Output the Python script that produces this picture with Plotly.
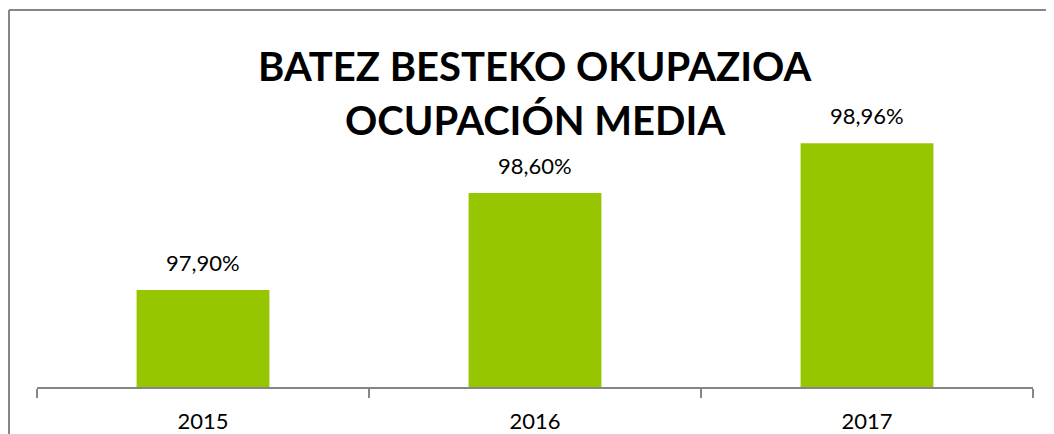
import plotly.graph_objects as go

years = ["2015", "2016", "2017"]
occupancy = [97.90, 98.60, 98.96]
labels = ["97,90%", "98,60%", "98,96%"]
title_lines = ["BATEZ BESTEKO OKUPAZIOA", "OCUPACIÓN MEDIA"]

OFF = 8  # page body margin
W, H = 1054, 434
# plot area in page pixels: x 37..1033, y 110..387
PX0, PX1, PY0, PY1 = 37, 1033, 110, 387
L, R = PX0 - OFF, W - (PX1 - OFF)
T, B = PY0 - OFF, H - (PY1 - OFF)
ymin, ymax = 97.2, 99.2

def px_x(p):
    return (p - PX0) / (PX1 - PX0)

def px_y(p):
    return (PY1 - p) / (PY1 - PY0)

fig = go.Figure(go.Bar(
    x=years, y=occupancy, marker=dict(color="#95C600", line=dict(width=0)),
    hoverinfo="skip",
))

for i, (y, t) in enumerate(zip(occupancy, labels)):
    fig.add_annotation(x=i, y=y, xref="x", yref="y", text=t, showarrow=False, yanchor="bottom",
                       yshift=12, font=dict(family="Lato", size=22, color="#000000"))

fig.add_annotation(xref="paper", yref="paper", x=0.5, y=px_y(66), text=title_lines[0],
                   showarrow=False, xanchor="center", yanchor="middle",
                   font=dict(family="Lato", size=40, color="#000000", weight="bold"))
fig.add_annotation(xref="paper", yref="paper", x=0.5, y=px_y(120), text=title_lines[1],
                   showarrow=False, xanchor="center", yanchor="middle",
                   font=dict(family="Lato", size=40, color="#000000", weight="bold"))

# chart border (Excel-like frame)
fig.add_shape(type="line", xref="paper", yref="paper", x0=px_x(9), x1=px_x(1080),
              y0=px_y(10), y1=px_y(10), line=dict(color="#868686", width=2))
fig.add_shape(type="line", xref="paper", yref="paper", x0=px_x(9), x1=px_x(9),
              y0=px_y(10), y1=px_y(460), line=dict(color="#868686", width=2))

fig.update_layout(
    width=W, height=H, margin=dict(l=L, r=R, t=T, b=B, autoexpand=False),
    paper_bgcolor="white", plot_bgcolor="white", showlegend=False,
    bargap=0.6,
    xaxis=dict(type="category", categoryorder="array", categoryarray=years,
               range=[-0.5, 2.5], autorange=False, automargin=False,
               showline=True, linecolor="#868686", linewidth=1.5,
               ticks="outside", tickson="boundaries", ticklen=9, tickcolor="#868686",
               tickwidth=1.5, showgrid=False, tickangle=0, ticklabelstandoff=14,
               tickfont=dict(family="Lato", size=22, color="#000000")),
    yaxis=dict(range=[ymin, ymax], autorange=False, automargin=False,
               visible=False, showgrid=False),
)

fig.write_html("out.html")
